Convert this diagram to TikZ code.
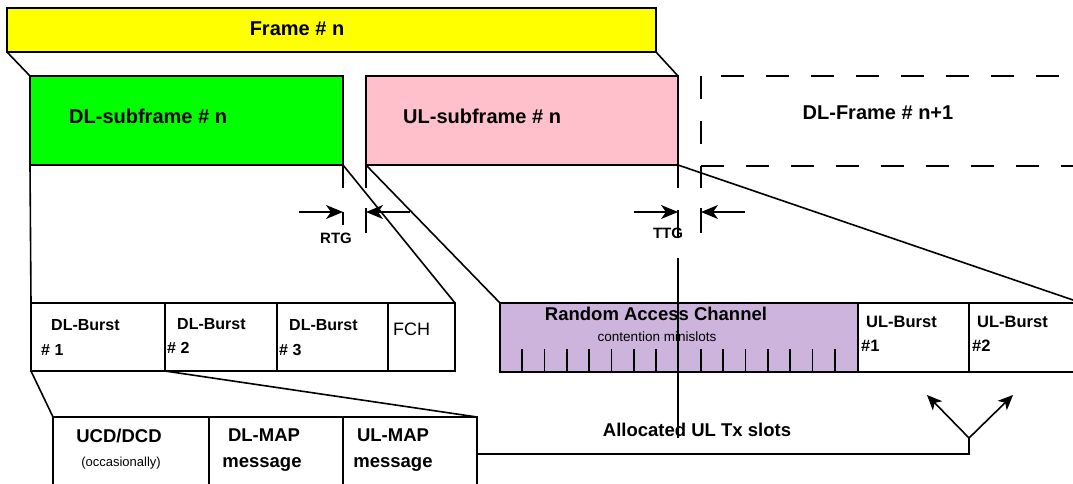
\documentclass[tikz,border=0pt]{standalone}
\usepackage{fontspec}
\setmainfont{Liberation Sans}
\usetikzlibrary{arrows.meta,calc}
\definecolor{fyellow}{HTML}{FFFF00}
\definecolor{fgreen}{HTML}{00FF00}
\definecolor{fpink}{HTML}{FFC0CB}
\definecolor{fpurple}{HTML}{CDB4DC}
\begin{document}
\begin{tikzpicture}[x=1pt,y=-1pt,
  blk/.style={draw, line width=2pt, inner sep=0pt, outer sep=0pt, anchor=north west},
  ln/.style={line width=1.6pt},
  thin/.style={line width=1.3pt},
  bt/.style={font=\bfseries\fontsize{#1}{#1}\selectfont, inner sep=0pt},
  rt/.style={font=\fontsize{#1}{#1}\selectfont, inner sep=0pt},
  arr/.style={ln, -{Stealth[length=17pt,width=14pt,inset=5pt]}},
  sarr/.style={ln, -{Stealth[length=15pt,width=13pt,inset=4pt]}},
  dsh/.style={line width=2pt, dash pattern=on 23pt off 22pt}
]
\useasboundingbox (0,0) rectangle (1073,483);
% top level boxes
\node[blk, fill=fyellow, minimum width=649, minimum height=44] (frame) at (7,8) {};
\node[blk, fill=fgreen, minimum width=313, minimum height=89] (dl) at (30,76) {};
\node[blk, fill=fpink, minimum width=312, minimum height=89] (ul) at (366,76) {};
% next frame dashed
\coordinate (ntl) at (701,76);
\coordinate (ntr) at (1075,76);
\coordinate (nbl) at (701,166);
\coordinate (nbr) at (1075,166);
\draw[dsh, dash phase=25pt] (ntl) -- (ntr);
\draw[dsh] (ntl) -- (nbl);
\draw[dsh] (nbl) -- (nbr);
% rows
\node[blk, minimum width=134, minimum height=68] (b1) at (31,303) {};
\node[blk, minimum width=112, minimum height=68] (b2) at (165,303) {};
\node[blk, minimum width=111, minimum height=68] (b3) at (277,303) {};
\node[blk, minimum width=67, minimum height=68] (fch) at (388,303) {};
\node[blk, fill=fpurple, minimum width=358, minimum height=69] (rac) at (500,303) {};
\node[blk, minimum width=111, minimum height=69] (u1) at (858,303) {};
\node[blk, minimum width=111, minimum height=69] (u2) at (969,303) {};
\node[blk, minimum width=156, minimum height=80] (m1) at (53,417) {};
\node[blk, minimum width=134, minimum height=80] (m2) at (209,417) {};
\node[blk, minimum width=134, minimum height=80] (m3) at (343,417) {};
% minislot ticks
\foreach \i in {0,...,14} {
  \draw[ln] ($(rac.south west)+(22+22.35*\i,0)$) -- ++(0,-23);
}
% connectors
\draw[ln] (frame.south west) -- (dl.north west);
\draw[ln] (frame.south east) -- (ul.north east);
\draw[ln] (dl.south west) -- (b1.north west);
\draw[ln] (dl.south east) -- (fch.north east);
\draw[ln] (ul.south west) -- (rac.north west);
\coordinate (ulend) at (1073,300);
\draw[ln] (ul.south east) -- (ulend);
\draw[ln] (b1.south west) -- (m1.north west);
\draw[ln] (b2.south west) -- (m3.north east);
% gap ticks
\draw[thin] (dl.south east) -- ++(0,23);
\draw[thin] (ul.south west) -- ++(0,23);
\draw[thin] (ul.south east) -- ++(0,23);
\draw[thin] (nbl) -- ++(0,22);
% RTG
\coordinate (r1) at (343,212);
\coordinate (r2) at (366,212);
\draw[thin] (343,212) -- (343,225);
\draw[thin] (366,208) -- (366,233);
\draw[arr] (299,212) -- (r1);
\draw[arr] (410,212) -- (r2);
\node[bt=15, anchor=base] (rtg) at (336,243) {RTG};
% TTG
\coordinate (t1) at (678,212);
\coordinate (t2) at (701,212);
\draw[thin] (678,210) -- (678,238);
\draw[thin] (701,208) -- (701,233);
\draw[arr] (634,212) -- (t1);
\draw[arr] (745,212) -- (t2);
\node[bt=15, anchor=base] (ttg) at (668,238) {TTG};
\draw[thin] (678,258) -- (678,438);
% allocated
\coordinate (fork) at (969,438);
\coordinate (a1) at (927,395);
\coordinate (a2) at (1013,395);
\draw[ln] (m3.east |- 0,454) -- (969,454) -- (fork);
\draw[sarr] (fork) -- (a1);
\draw[sarr] (fork) -- (a2);
% texts
\node[bt=20, anchor=base] (tframe) at (297,35) {Frame \# n};
\node[bt=20, anchor=base west] (tdl) at (69,123) {DL-subframe \# n};
\node[bt=20, anchor=base west] (tul) at (403,123) {UL-subframe \# n};
\node[bt=20, anchor=base] (tnext) at (878,119) {DL-Frame \# n+1};
\node[bt=16, anchor=base west] at (51,330.5) {DL-Burst};
\node[bt=16, anchor=base west] at (41,355) {\# 1};
\node[bt=16, anchor=base west] at (177,329) {DL-Burst};
\node[bt=16, anchor=base west] at (167,353) {\# 2};
\node[bt=16, anchor=base west] at (289,330.5) {DL-Burst};
\node[bt=16, anchor=base west] at (279,355) {\# 3};
\node[rt=18, anchor=base west] at (393,335) {FCH};
\node[bt=18.5, anchor=base] at (119,442.5) {UCD/DCD};
\node[rt=13, anchor=base] at (121,466) {(occasionally)};
\node[bt=18.5, anchor=base] at (264,441) {DL-MAP};
\node[bt=18.5, anchor=base] at (262,467.5) {message};
\node[bt=18.5, anchor=base] at (393,441) {UL-MAP};
\node[bt=18.5, anchor=base] at (393,467.5) {message};
\node[bt=18.5, anchor=base] at (656,320.5) {Random Access Channel};
\node[rt=13.5, anchor=base] at (657,341.5) {contention minislots};
\node[bt=16.5, anchor=base west] at (866,327) {UL-Burst};
\node[bt=16.5, anchor=base west] at (861,351.5) {\#1};
\node[bt=16.5, anchor=base west] at (977,327) {UL-Burst};
\node[bt=16.5, anchor=base west] at (972,351.5) {\#2};
\node[bt=18.5, anchor=base] (alloc) at (697,436.5) {Allocated UL Tx slots};
\end{tikzpicture}
\end{document}
